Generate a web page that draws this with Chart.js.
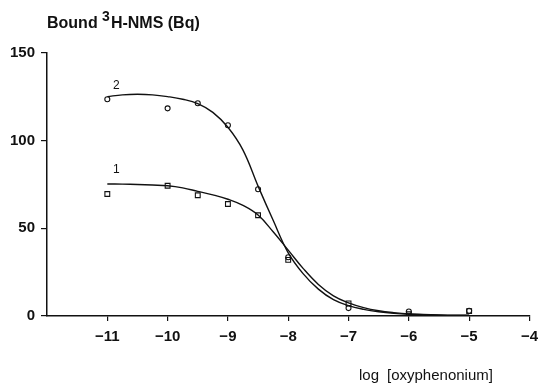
<!DOCTYPE html>
<html>
<head>
<meta charset="utf-8">
<script src="https://cdn.jsdelivr.net/npm/chart.js@4/dist/chart.umd.min.js"></script>
<style>
    html, body { margin: 0; padding: 0; background: #fff; }
    #wrap { width: 545px; height: 384px; }
</style>
</head>
<body>
<div id="wrap"><canvas id="bindingChart"></canvas></div>
<script>
// measured points (log concentration / bound Bq)
const doseX = [-11, -10, -9.5, -9, -8.5, -8, -7, -6, -5]
const bound1 = [69.5, 74.2, 68.8, 63.8, 57.4, 32.0, 7.2, 1.0, 2.8]
const bound2 = [123.5, 118.3, 121.2, 108.7, 72.2, 33.5, 4.5, 2.6, 3.0]

// fitted curves
const fitX = [-11, -10.75, -10.5, -10.25, -10, -9.75, -9.5, -9.25, -9, -8.75, -8.5, -8.25, -8, -7.75, -7.5, -7.25, -7, -6.75, -6.5, -6.25, -6, -5.5, -5]
const fit1 = [75.2, 75.1, 74.9, 74.6, 74.2, 73.0, 71.0, 69.0, 66.5, 63.0, 57.5, 48.0, 37.5, 27.0, 18.0, 11.5, 7.5, 4.8, 3.0, 1.9, 1.2, 0.6, 0.4]
const fit2 = [125.0, 126.0, 126.3, 126.0, 125.0, 123.5, 121.0, 116.0, 107.5, 94.5, 74.0, 54.5, 36.0, 24.0, 15.3, 9.3, 5.9, 3.8, 2.4, 1.5, 1.0, 0.5, 0.3]

const xTicks = [-11, -10, -9, -8, -7, -6, -5, -4]
const yTicks = [0, 50, 100, 150]

const yTitle = ['Bound ', '3', 'H-NMS (Bq)']
const xTitle = ['log', '[oxyphenonium]']
const curveNames = ['1', '2']

const ink = '#111'
const font = '"Liberation Sans", Arial, Helvetica, sans-serif'

const toPoints = (xs, ys) => xs.map((x, i) => ({x: x, y: ys[i]}))

// texts that are not part of an axis
const labelsPlugin = {
    id: 'labels',
    afterDraw(chart) {
        const ctx = chart.ctx
        const xs = chart.scales.x
        const ys = chart.scales.y
        ctx.save()
        ctx.fillStyle = ink
        ctx.textBaseline = 'alphabetic'
        ctx.textAlign = 'left'

        // y title with superscript
        let x = 47
        ctx.font = 'bold 16px ' + font
        ctx.fillText(yTitle[0], x, 28)
        x += ctx.measureText(yTitle[0]).width
        ctx.font = 'bold 14px ' + font
        ctx.fillText(yTitle[1], x, 21)
        x += ctx.measureText(yTitle[1]).width + 1
        ctx.font = 'bold 16px ' + font
        ctx.fillText(yTitle[2], x, 28)

        // x title
        ctx.font = '15px ' + font
        ctx.fillText(xTitle[0], 359, 380)
        ctx.fillText(xTitle[1], 387, 380)

        // curve numbers
        ctx.font = '12px ' + font
        ctx.textAlign = 'center'
        ctx.textBaseline = 'middle'
        ctx.fillText(curveNames[0], xs.getPixelForValue(-10.85), ys.getPixelForValue(83.5))
        ctx.fillText(curveNames[1], xs.getPixelForValue(-10.85), ys.getPixelForValue(131))
        ctx.restore()
    }
}

const ctx = document.getElementById('bindingChart').getContext('2d')

new Chart(ctx, {
    type: 'scatter',
    data: {
        datasets: [
            {
                label: 'fit 1',
                type: 'line',
                data: toPoints(fitX, fit1),
                borderColor: ink,
                borderWidth: 1.4,
                pointRadius: 0,
                tension: 0.4,
                fill: false
            },
            {
                label: 'fit 2',
                type: 'line',
                data: toPoints(fitX, fit2),
                borderColor: ink,
                borderWidth: 1.4,
                pointRadius: 0,
                tension: 0.4,
                fill: false
            },
            {
                label: '1',
                data: toPoints(doseX, bound1),
                pointStyle: 'rect',
                pointRadius: 3.4,
                borderColor: ink,
                borderWidth: 1.1,
                backgroundColor: 'rgba(255,255,255,0)'
            },
            {
                label: '2',
                data: toPoints(doseX, bound2),
                pointStyle: 'circle',
                pointRadius: 2.5,
                borderColor: ink,
                borderWidth: 1.1,
                backgroundColor: 'rgba(255,255,255,0)'
            }
        ]
    },
    options: {
        responsive: true,
        maintainAspectRatio: false,
        animation: false,
        layout: {
            padding: {top: 52.7, right: 4.7, left: 0, bottom: 0}
        },
        plugins: {
            legend: {display: false},
            tooltip: {enabled: false}
        },
        scales: {
            x: {
                type: 'linear',
                min: -12,
                max: -4,
                afterBuildTicks: (scale) => {
                    scale.ticks = xTicks.map(v => ({value: v}))
                },
                afterFit: (scale) => {
                    scale.height = 68
                },
                border: {color: ink, width: 1.5},
                grid: {drawOnChartArea: false, color: ink, tickLength: 5, lineWidth: 1.2},
                ticks: {
                    color: ink,
                    padding: 7,
                    maxRotation: 0,
                    font: {family: font, size: 15, weight: 'bold'},
                    callback: (value) => String(value).replace('-', '\u2212')
                }
            },
            y: {
                type: 'linear',
                min: 0,
                max: 150,
                afterBuildTicks: (scale) => {
                    scale.ticks = yTicks.map(v => ({value: v}))
                },
                afterFit: (scale) => {
                    scale.width = 47
                },
                border: {color: ink, width: 1.5},
                grid: {drawOnChartArea: false, color: ink, tickLength: 6, lineWidth: 1.2},
                ticks: {
                    color: ink,
                    padding: 6,
                    font: {family: font, size: 15, weight: 'bold'}
                }
            }
        }
    },
    plugins: [labelsPlugin]
})
</script>
</body>
</html>
